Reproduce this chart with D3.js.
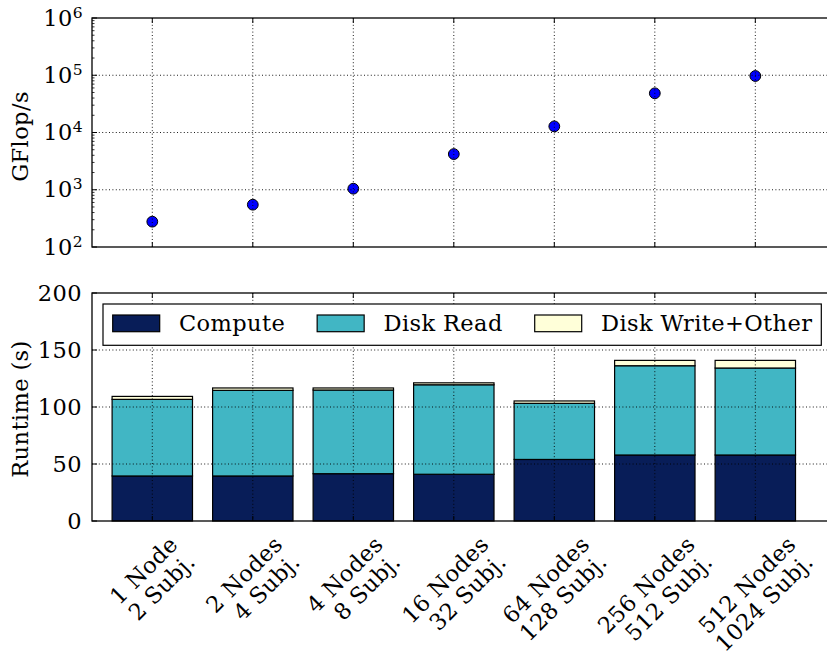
<!DOCTYPE html>
<html>
<head>
<meta charset="utf-8">
<script src="https://cdn.jsdelivr.net/npm/d3@7"></script>
<style>
  body { margin: 0; background: #fff; }
  svg { display: block; }
  text { font-family: "DejaVu Serif", "Liberation Serif", serif; fill: #000; letter-spacing: 0.4px; }
</style>
</head>
<body>
<svg id="chart" width="827" height="656"></svg>
<script>
// ---- data ----
const categories = [
  ["1 Node", "2 Subj."],
  ["2 Nodes", "4 Subj."],
  ["4 Nodes", "8 Subj."],
  ["16 Nodes", "32 Subj."],
  ["64 Nodes", "128 Subj."],
  ["256 Nodes", "512 Subj."],
  ["512 Nodes", "1024 Subj."]
];
const gflops    = [277, 548, 1043, 4200, 12800, 48400, 97000];
const compute   = [39.5, 39.5, 41.5, 41.0, 54.0, 57.9, 57.9];
const diskRead  = [67.2, 75.1, 73.4, 78.5, 49.2, 78.3, 76.3];
const diskWrite = [2.6, 2.1, 1.8, 1.7, 2.1, 4.7, 6.7];
const seriesNames  = ["Compute", "Disk Read", "Disk Write+Other"];
const seriesColors = ["#081d58", "#41b6c4", "#ffffd9"];
const gflopTicks   = [1e2, 1e3, 1e4, 1e5, 1e6];
const runtimeTicks = [0, 50, 100, 150, 200];

// ---- layout ----
const svg = d3.select("#chart");
const FS = 22.5;            // base font size
const left = 92, right = 832;
const top1 = 18, bot1 = 247;
const top2 = 293, bot2 = 521;

const x = d3.scaleLinear().domain([-0.6, 6.763]).range([left, right]);
const idx = d3.range(categories.length);
const barW = x(0.8) - x(0);

const yTop = d3.scaleLog().domain([1e2, 1e6]).range([bot1, top1]);
const yBot = d3.scaleLinear().domain([0, 200]).range([bot2, top2]);

const gridStyle = sel => sel
  .attr("stroke", "#000").attr("stroke-width", 0.9)
  .attr("stroke-dasharray", "1,2.4").attr("fill", "none");

// ================= top panel: GFlop/s (log) =================
const gT = svg.append("g");
gT.append("rect").attr("x", left).attr("y", top1)
  .attr("width", right - left).attr("height", bot1 - top1).attr("fill", "#fff");

gT.selectAll("circle.pt").data(idx).join("circle")
  .attr("class", "pt")
  .attr("cx", i => x(i)).attr("cy", i => yTop(gflops[i])).attr("r", 5.4)
  .attr("fill", "#0000ff").attr("stroke", "#000").attr("stroke-width", 1);

// grid
gT.selectAll("line.gx").data(idx).join("line").attr("class", "gx")
  .attr("x1", i => x(i)).attr("x2", i => x(i)).attr("y1", top1).attr("y2", bot1)
  .call(gridStyle);
gT.selectAll("line.gy").data(gflopTicks.slice(1, -1)).join("line").attr("class", "gy")
  .attr("x1", left).attr("x2", right).attr("y1", d => yTop(d)).attr("y2", d => yTop(d))
  .call(gridStyle);

// minor ticks (log)
const minor = [];
for (let e = 2; e < 6; e++) for (let m = 2; m <= 9; m++) minor.push(m * Math.pow(10, e));
gT.selectAll("line.mn").data(minor).join("line").attr("class", "mn")
  .attr("x1", left).attr("x2", left + 2.5)
  .attr("y1", d => yTop(d)).attr("y2", d => yTop(d))
  .attr("stroke", "#000").attr("stroke-width", 0.8);
gT.selectAll("line.mj").data(gflopTicks).join("line").attr("class", "mj")
  .attr("x1", left).attr("x2", left + 5)
  .attr("y1", d => yTop(d)).attr("y2", d => yTop(d))
  .attr("stroke", "#000").attr("stroke-width", 1);
// x ticks (top & bottom, inward)
[[top1, 5], [bot1, -5]].forEach(([yy, len]) => {
  gT.append("g").selectAll("line").data(idx).join("line")
    .attr("x1", i => x(i)).attr("x2", i => x(i))
    .attr("y1", yy).attr("y2", yy + len)
    .attr("stroke", "#000").attr("stroke-width", 1);
});
gT.append("rect").attr("x", left).attr("y", top1)
  .attr("width", right - left).attr("height", bot1 - top1)
  .attr("fill", "none").attr("stroke", "#000").attr("stroke-width", 1.3);

// log tick labels 10^n
gflopTicks.forEach(v => {
  const t = gT.append("text").attr("text-anchor", "end")
    .attr("x", 83).attr("y", yTop(v) + 7.5).style("font-size", FS + "px");
  t.append("tspan").text("10");
  t.append("tspan").attr("dy", -8).style("font-size", "15.5px").text(Math.round(Math.log10(v)));
});
gT.append("text").attr("transform", `translate(28,${(top1 + bot1) / 2 + 4}) rotate(-90)`)
  .attr("text-anchor", "middle").style("font-size", FS + "px").text("GFlop/s");

// ================= bottom panel: stacked runtime =================
const gB = svg.append("g");
const stackRows = idx.map(i => ({ i, Compute: compute[i], "Disk Read": diskRead[i], "Disk Write+Other": diskWrite[i] }));
const stacked = d3.stack().keys(seriesNames)(stackRows);

stacked.forEach((layer, k) => {
  gB.append("g").selectAll("rect").data(layer).join("rect")
    .attr("x", d => x(d.data.i) - barW / 2)
    .attr("y", d => yBot(d[1]))
    .attr("width", barW)
    .attr("height", d => yBot(d[0]) - yBot(d[1]))
    .attr("fill", seriesColors[k])
    .attr("stroke", "#000").attr("stroke-width", 1.2);
});

// grid
gB.selectAll("line.gx").data(idx).join("line").attr("class", "gx")
  .attr("x1", i => x(i)).attr("x2", i => x(i)).attr("y1", top2).attr("y2", bot2)
  .call(gridStyle);
gB.selectAll("line.gy").data(runtimeTicks.slice(1, -1)).join("line").attr("class", "gy")
  .attr("x1", left).attr("x2", right).attr("y1", d => yBot(d)).attr("y2", d => yBot(d))
  .call(gridStyle);

// ticks
gB.selectAll("line.mj").data(runtimeTicks).join("line").attr("class", "mj")
  .attr("x1", left).attr("x2", left + 5)
  .attr("y1", d => yBot(d)).attr("y2", d => yBot(d))
  .attr("stroke", "#000").attr("stroke-width", 1);
[[top2, 5], [bot2, -5]].forEach(([yy, len]) => {
  gB.append("g").selectAll("line").data(idx).join("line")
    .attr("x1", i => x(i)).attr("x2", i => x(i))
    .attr("y1", yy).attr("y2", yy + len)
    .attr("stroke", "#000").attr("stroke-width", 1);
});

// legend
const lg = gB.append("g");
const lgFrame = lg.append("rect").attr("fill", "#fff").attr("stroke", "#000").attr("stroke-width", 1.2);
const lgGap = 32;
let lx = 112.7;
const lgY = 315;
seriesNames.forEach((name, k) => {
  lg.append("rect").attr("x", lx).attr("y", lgY).attr("width", 47).attr("height", 16.7)
    .attr("fill", seriesColors[k]).attr("stroke", "#000").attr("stroke-width", 1.2);
  const t = lg.append("text").attr("x", lx + 66.3).attr("y", lgY + 16)
    .style("font-size", FS + "px").text(name);
  lx = lx + 66.3 + t.node().getComputedTextLength() + lgGap;
});
lgFrame.attr("x", 103).attr("y", 304).attr("width", lx - lgGap + 9 - 103).attr("height", 41.3);

gB.append("rect").attr("x", left).attr("y", top2)
  .attr("width", right - left).attr("height", bot2 - top2)
  .attr("fill", "none").attr("stroke", "#000").attr("stroke-width", 1.3);

runtimeTicks.forEach(v => {
  gB.append("text").attr("text-anchor", "end").attr("x", 82).attr("y", yBot(v) + 7.8)
    .style("font-size", FS + "px").text(v);
});
gB.append("text").attr("transform", `translate(28,${(top2 + bot2) / 2 + 2}) rotate(-90)`)
  .attr("text-anchor", "middle").style("font-size", FS + "px").text("Runtime (s)");

// rotated two-line category labels, bbox centred under each tick
const lineH = 24.5;
const ang = -Math.PI / 4, ca = Math.cos(ang), sa = Math.sin(ang);
categories.forEach((lines, i) => {
  const outer = svg.append("g");
  const t = outer.append("g").attr("transform", "rotate(-45)")
    .append("text").attr("text-anchor", "end").style("font-size", FS + "px");
  lines.forEach((l, j) => t.append("tspan").attr("x", 0).attr("y", j * lineH).text(l));
  const bb = t.node().getBBox();
  const pts = [[bb.x, bb.y], [bb.x + bb.width, bb.y], [bb.x, bb.y + bb.height], [bb.x + bb.width, bb.y + bb.height]]
    .map(([px, py]) => [px * ca - py * sa, px * sa + py * ca]);
  const minX = d3.min(pts, p => p[0]), maxX = d3.max(pts, p => p[0]);
  const minY = d3.min(pts, p => p[1]);
  outer.attr("transform", `translate(${x(i) - (minX + maxX) / 2},${531 - minY})`);
});
</script>
</body>
</html>
